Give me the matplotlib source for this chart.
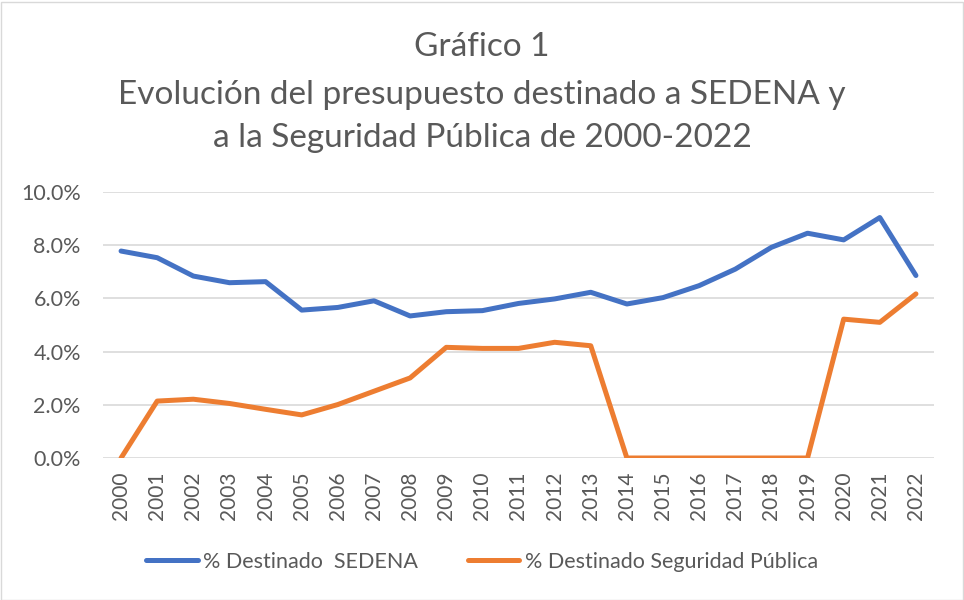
import matplotlib.pyplot as plt
from matplotlib.patches import Rectangle
from matplotlib.ticker import FuncFormatter

plt.rcParams['font.family'] = ['Lato', 'DejaVu Sans']

# datos
years = list(range(2000, 2023))
sedena = [7.78, 7.53, 6.84, 6.59, 6.63, 5.56, 5.66, 5.91, 5.34, 5.50, 5.54, 5.81,
          5.98, 6.23, 5.79, 6.03, 6.48, 7.10, 7.92, 8.45, 8.20, 9.04, 6.86]
seguridad = [0.0, 2.14, 2.21, 2.05, 1.83, 1.62, 2.01, 2.51, 3.01, 4.16, 4.12, 4.12,
             4.35, 4.22, 0.0, 0.0, 0.0, 0.0, 0.0, 0.0, 5.22, 5.10, 6.17]

gris = '#595959'

fig = plt.figure(figsize=(9.64, 6.0), dpi=100)
ax = fig.add_axes([103 / 964, 1 - 458 / 600, (934 - 103) / 964, (458 - 192) / 600])

ax.plot(years, sedena, color='#4472C4', lw=3.6, solid_capstyle='round',
        solid_joinstyle='round', label='% Destinado  SEDENA')
ax.plot(years, seguridad, color='#ED7D31', lw=3.6, solid_capstyle='round',
        solid_joinstyle='round', label='% Destinado Seguridad Pública')

ax.set_ylim(0, 10)
ax.set_yticks([0, 2, 4, 6, 8, 10])
ax.yaxis.set_major_formatter(FuncFormatter(lambda v, p: f'{v:.1f}%'))
ax.set_xlim(1999.5, 2022.5)
ax.set_xticks(years)
ax.set_xticklabels([str(y) for y in years], rotation=90)
ax.tick_params(axis='both', length=0, colors=gris)
ax.tick_params(axis='y', labelsize=15.5, pad=16)
ax.tick_params(axis='x', labelsize=15, pad=10)
ax.grid(axis='y', color='#D9D9D9', lw=1.2)
ax.set_axisbelow(True)
for s in ax.spines.values():
    s.set_visible(False)

fig.text(0.5, 1 - 47 / 600, 'Gráfico 1', ha='center', va='center', fontsize=24, color=gris)
fig.text(0.5, 1 - 95 / 600, 'Evolución del presupuesto destinado a SEDENA y', ha='center',
         va='center', fontsize=24, color=gris)
fig.text(0.5, 1 - 138 / 600, 'a la Seguridad Pública de 2000-2022', ha='center', va='center',
         fontsize=24, color=gris)

leg = fig.legend(loc='center', bbox_to_anchor=(0.5, 1 - 562 / 600), ncol=2, frameon=False,
                 fontsize=15.5, handlelength=2.4, handletextpad=0.25, columnspacing=2.3)
for t in leg.get_texts():
    t.set_color(gris)

fig.patches.append(Rectangle((0.5 / 964, 0.5 / 600), 962 / 964, 598 / 600, transform=fig.transFigure,
                             fill=False, edgecolor='#D9D9D9', lw=1))

fig.savefig('out.png', dpi=100)
